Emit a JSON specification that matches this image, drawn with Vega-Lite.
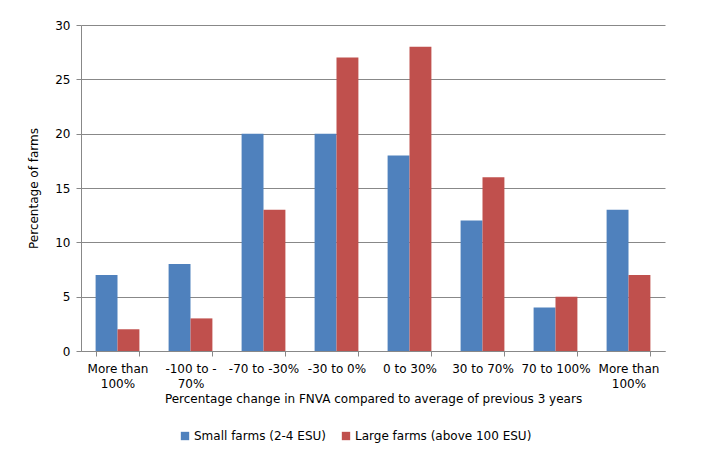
{
  "$schema": "https://vega.github.io/schema/vega-lite/v6.json",
  "width": 584,
  "height": 326,
  "autosize": {"type": "none"},
  "padding": {"left": 81, "top": 25, "right": 53, "bottom": 118},
  "background": "white",
  "data": {
    "values": [
      {"cat": "More than|100%", "series": "Small farms (2-4 ESU)", "pct": 7},
      {"cat": "More than|100%", "series": "Large farms (above 100 ESU)", "pct": 2},
      {"cat": "-100 to -|70%", "series": "Small farms (2-4 ESU)", "pct": 8},
      {"cat": "-100 to -|70%", "series": "Large farms (above 100 ESU)", "pct": 3},
      {"cat": "-70 to -30%", "series": "Small farms (2-4 ESU)", "pct": 20},
      {"cat": "-70 to -30%", "series": "Large farms (above 100 ESU)", "pct": 13},
      {"cat": "-30 to 0%", "series": "Small farms (2-4 ESU)", "pct": 20},
      {"cat": "-30 to 0%", "series": "Large farms (above 100 ESU)", "pct": 27},
      {"cat": "0 to 30%", "series": "Small farms (2-4 ESU)", "pct": 18},
      {"cat": "0 to 30%", "series": "Large farms (above 100 ESU)", "pct": 28},
      {"cat": "30 to 70%", "series": "Small farms (2-4 ESU)", "pct": 12},
      {"cat": "30 to 70%", "series": "Large farms (above 100 ESU)", "pct": 16},
      {"cat": "70 to 100%", "series": "Small farms (2-4 ESU)", "pct": 4},
      {"cat": "70 to 100%", "series": "Large farms (above 100 ESU)", "pct": 5},
      {"cat": "More than|100%\u200b", "series": "Small farms (2-4 ESU)", "pct": 13},
      {"cat": "More than|100%\u200b", "series": "Large farms (above 100 ESU)", "pct": 7}
    ]
  },
  "mark": {"type": "bar"},
  "encoding": {
    "x": {
      "field": "cat",
      "type": "nominal",
      "sort": null,
      "scale": {"paddingInner": 0.4, "paddingOuter": 0.2},
      "axis": {
        "title": "Percentage change in FNVA compared to average of previous 3 years",
        "labelExpr": "isValid(datum.value) ? split(datum.value, '|') : ''",
        "labelAngle": 0,
        "labelAlign": "center",
        "labelBaseline": "top",
        "labelLineHeight": 15,
        "labelPadding": 7,
        "tickBand": "extent",
        "tickSize": 5,
        "titlePadding": 4
      }
    },
    "xOffset": {"field": "series", "type": "nominal", "sort": null},
    "y": {
      "field": "pct",
      "type": "quantitative",
      "scale": {"domain": [0, 30]},
      "axis": {
        "title": "Percentage of farms",
        "values": [0, 5, 10, 15, 20, 25, 30],
        "titlePadding": 14,
        "labelPadding": 6,
        "tickSize": 5
      }
    },
    "color": {
      "field": "series",
      "type": "nominal",
      "sort": null,
      "scale": {"range": ["#4F81BD", "#C0504D"]},
      "legend": {
        "title": null,
        "orient": "none",
        "legendX": 98,
        "legendY": 405,
        "direction": "horizontal",
        "symbolType": "square",
        "symbolSize": 70,
        "symbolStrokeWidth": 0,
        "labelFontSize": 12,
        "labelOffset": 3,
        "labelLimit": 400,
        "columnPadding": 14
      }
    }
  },
  "config": {
    "font": "DejaVu Sans",
    "view": {"stroke": null},
    "axis": {
      "labelFont": "DejaVu Sans",
      "titleFont": "DejaVu Sans",
      "labelFontSize": 12,
      "titleFontSize": 12,
      "titleFontWeight": "normal",
      "labelColor": "#000000",
      "titleColor": "#000000",
      "domainColor": "#888888",
      "tickColor": "#888888",
      "gridColor": "#888888",
      "gridWidth": 1
    },
    "axisX": {"grid": false},
    "legend": {"labelFont": "DejaVu Sans", "labelColor": "#000000"}
  }
}
